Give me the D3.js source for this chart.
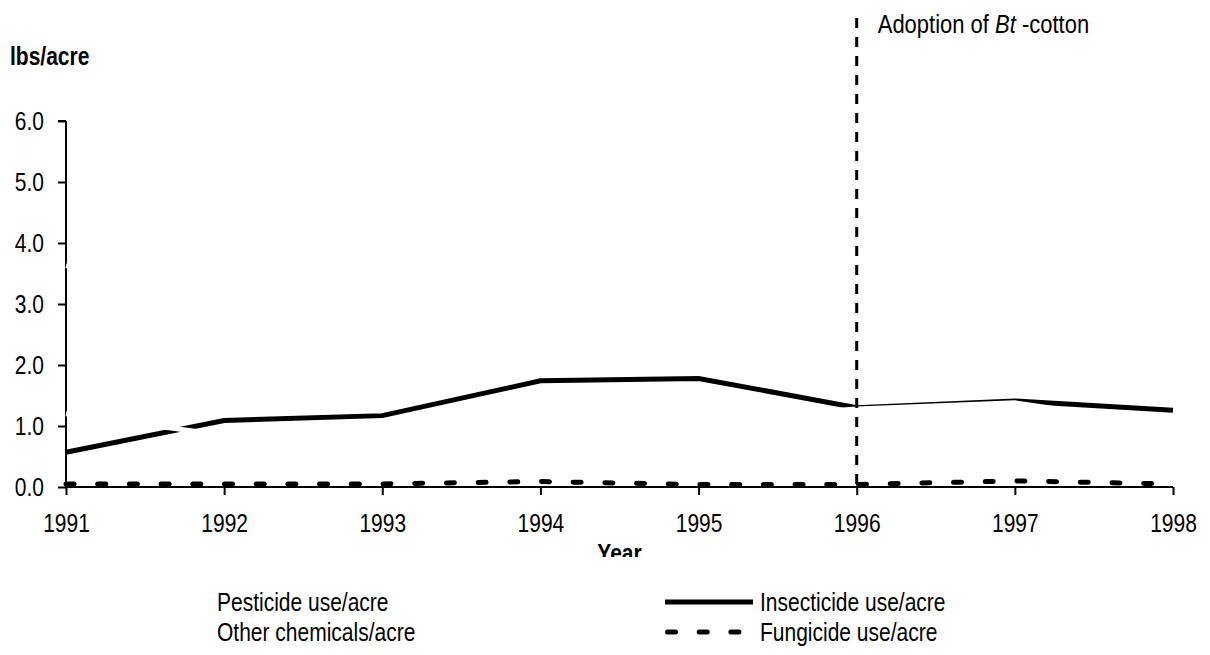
<!DOCTYPE html>
<html>
<head>
<meta charset="utf-8">
<script src="https://cdn.jsdelivr.net/npm/d3@7"></script>
<style>
  body { margin: 0; background: #fff; }
  svg { display: block; font-family: "Liberation Sans", Arial, sans-serif; }
</style>
</head>
<body>
<div id="chart"></div>
<script>
// data
const years = [1991, 1992, 1993, 1994, 1995, 1996, 1997, 1998];
const insecticide = [0.57, 1.09, 1.17, 1.74, 1.78, 1.3, 1.41, 1.26];
const fungicide = [0.05, 0.05, 0.05, 0.09, 0.04, 0.04, 0.1, 0.05];
// these two series are drawn in white in the original (only their traces show)
const pesticide = [3.63, 3.0, 3.1, 3.5, 3.6, 2.9, 3.0, 2.8];
const otherChem = [1.2, 0.85, 0.9, 1.0, 1.1, 1.28, 1.38, 1.0];
const yTicks = [0, 1, 2, 3, 4, 5, 6];
const adoptionYear = 1996;

const width = 1210;
const height = 655;
const stretch = 1.2; // text in the original is a bit taller than it is wide

const svg = d3.select("#chart")
  .append("svg")
  .attr("width", width)
  .attr("height", height);

const x = d3.scaleLinear().domain([1991, 1998]).range([66, 1173]);
const y = d3.scaleLinear().domain([0, 6]).range([487, 121]);

function label(px, py, txt, opts) {
  const t = svg.append("text")
    .attr("transform", "translate(" + px + "," + py + ") scale(1," + stretch + ")")
    .attr("font-size", opts.size || 21)
    .attr("font-weight", opts.bold ? "bold" : null)
    .attr("text-anchor", opts.anchor || "start");
  if (txt) t.text(txt);
  return t;
}

// y axis
const yAxis = svg.append("g")
  .attr("transform", "translate(" + x(1991) + ",0)")
  .call(d3.axisLeft(y).tickValues(yTicks).tickFormat(d3.format(".1f")).tickSize(8).tickPadding(14));
yAxis.select(".domain").attr("d", "M0," + y(6) + "H-8M0," + y(6) + "V" + y(0));
yAxis.selectAll(".tick text").attr("transform", "scale(1," + stretch + ")");

// x axis
const xAxis = svg.append("g")
  .attr("transform", "translate(0," + y(0) + ")")
  .call(d3.axisBottom(x).tickValues(years).tickFormat(d3.format("d")).tickSize(8));
xAxis.select(".domain").attr("d", "M" + x(1991) + ",0H" + x(1998));
xAxis.selectAll(".tick text").attr("y", 22.5).attr("transform", "scale(1," + stretch + ")");

svg.selectAll(".domain, .tick line").attr("stroke", "#000").attr("stroke-width", 2);
svg.selectAll(".tick text").attr("font-size", 21).attr("fill", "#000");

label(10, 65, "lbs/acre", { bold: true });

const line = d3.line()
  .x((d, i) => x(years[i]))
  .y(d => y(d));

svg.append("path")
  .datum(fungicide)
  .attr("d", line)
  .attr("fill", "none")
  .attr("stroke", "#000")
  .attr("stroke-width", 5)
  .attr("stroke-linecap", "round")
  .attr("stroke-dasharray", "8,23.7");

svg.append("path")
  .datum(insecticide)
  .attr("d", line)
  .attr("fill", "none")
  .attr("stroke", "#000")
  .attr("stroke-width", 5);

// white series on top
[pesticide, otherChem].forEach(function (s) {
  svg.append("path")
    .datum(s)
    .attr("d", line)
    .attr("fill", "none")
    .attr("stroke", "#fff")
    .attr("stroke-width", 5);
});

// adoption marker
svg.append("line")
  .attr("x1", x(adoptionYear))
  .attr("x2", x(adoptionYear))
  .attr("y1", 18)
  .attr("y2", y(0))
  .attr("stroke", "#000")
  .attr("stroke-width", 3)
  .attr("stroke-dasharray", "10,9");

const ann = label(x(adoptionYear) + 21, 33, null, { size: 22 });
ann.append("tspan").text("Adoption of ");
ann.append("tspan").attr("font-style", "italic").text("Bt");
ann.append("tspan").text(" -cotton");

label((x(1991) + x(1998)) / 2, 562, "Year", { bold: true, anchor: "middle" });

// legend box covers the lower half of the axis title, as in the original
svg.append("rect")
  .attr("x", 140)
  .attr("y", 557)
  .attr("width", 920)
  .attr("height", 98)
  .attr("fill", "#fff");

const legendItems = [
  { name: "Pesticide use/acre", col: 0, row: 0, color: "#fff", dash: null },
  { name: "Other chemicals/acre", col: 0, row: 1, color: "#fff", dash: null },
  { name: "Insecticide use/acre", col: 1, row: 0, color: "#000", dash: null },
  { name: "Fungicide use/acre", col: 1, row: 1, color: "#000", dash: "8,23.7" }
];
const colX = [122, 665];
const rowY = [602, 632];

legendItems.forEach(function (d) {
  const lx = colX[d.col];
  const ly = rowY[d.row];
  const l = svg.append("line")
    .attr("x1", lx + (d.dash ? 2.5 : 0))
    .attr("x2", lx + 88)
    .attr("y1", ly)
    .attr("y2", ly)
    .attr("stroke", d.color)
    .attr("stroke-width", 5);
  if (d.dash) l.attr("stroke-dasharray", d.dash).attr("stroke-linecap", "round");
  label(lx + 95, ly + 9, d.name, {});
});
</script>
</body>
</html>
